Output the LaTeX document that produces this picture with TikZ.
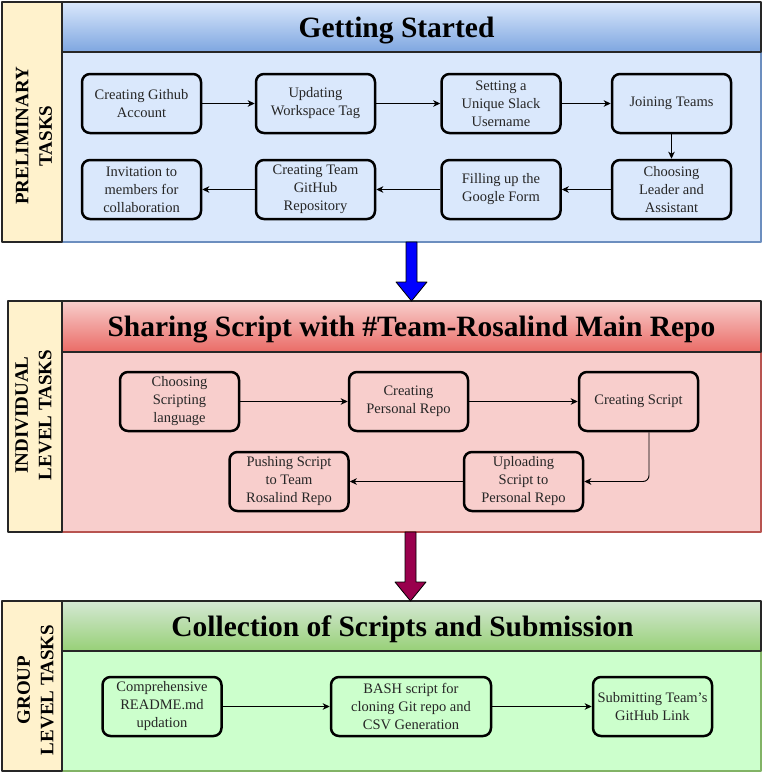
\documentclass[tikz,border=0pt]{standalone}
\usepackage{fontspec}
\setmainfont{Liberation Serif}
\usetikzlibrary{arrows.meta,positioning}

\definecolor{blueFill}{HTML}{DAE8FC}
\definecolor{blueGrad}{HTML}{7EA6E0}
\definecolor{blueLine}{HTML}{6C8EBF}
\definecolor{redFill}{HTML}{F8CECC}
\definecolor{redGrad}{HTML}{EA6B66}
\definecolor{redLine}{HTML}{B85450}
\definecolor{greenTop}{HTML}{D5E8D4}
\definecolor{greenGrad}{HTML}{97D077}
\definecolor{greenFill}{HTML}{CCFFCC}
\definecolor{greenLine}{HTML}{82B366}
\definecolor{labelFill}{HTML}{FFF2CC}
\definecolor{maroon}{HTML}{99004D}

\begin{document}
\begin{tikzpicture}[x=1pt, y=-1pt, >={Stealth[length=7pt,width=6.5pt,inset=2pt]}, line join=round,
		task/.style={draw=black, line width=2.5pt, rounded corners=8pt, minimum width=119pt, minimum height=59pt,
			align=center, text=black!85, inner sep=2pt, font=\fontsize{14.5}{18}\selectfont},
		flow/.style={->, line width=0.9pt},
		lanebox/.style={draw=black!85, line width=2pt},
		lanelabel/.style={rotate=90, align=center, font=\bfseries\fontsize{19}{23.5}\selectfont},
		lanetitle/.style={anchor=base, font=\bfseries\fontsize{29.5}{34}\selectfont},
		bigarrow/.style={draw=black, line width=0.8pt}]
	
	\useasboundingbox (0,0) rectangle (762,772);
	
	% lane 1: preliminary tasks
	\draw[fill=blueFill, draw=blueLine, line width=2pt] (62,52) rectangle (761,242);
	\draw[lanebox, top color=blueFill, bottom color=blueGrad] (62,2) rectangle (761,52);
	\draw[lanebox, fill=labelFill] (2,2) rectangle (62,242);
	\node[lanelabel] (lab1) at (34,136) {PRELIMINARY\\TASKS};
	\node[lanetitle] (title1) at (396.5,37.3) {Getting Started};
	
	% lane 2: individual level tasks
	\draw[fill=redFill, draw=redLine, line width=2pt] (62,352) rectangle (761,532);
	\draw[lanebox, top color=redFill, bottom color=redGrad] (62,301) rectangle (761,352);
	\draw[lanebox, fill=labelFill] (8,301) rectangle (62,532);
	\node[lanelabel] (lab2) at (33.5,415) {INDIVIDUAL\\LEVEL TASKS};
	\node[lanetitle] (title2) at (411.5,336.7) {Sharing Script with \#Team-Rosalind Main Repo};
	
	% lane 3: group level tasks
	\draw[fill=greenFill, draw=greenLine, line width=2pt] (62,651) rectangle (761,771);
	\draw[lanebox, top color=greenTop, bottom color=greenGrad] (62,601) rectangle (761,651);
	\draw[lanebox, fill=labelFill] (2,601) rectangle (62,771);
	\node[lanelabel] (lab3) at (35.5,690) {GROUP\\LEVEL TASKS};
	\node[lanetitle] (title3) at (402.5,636) {Collection of Scripts and Submission};
	
	% block arrows between lanes
	\draw[bigarrow, fill=blue] (406,242) -- (417,242) -- (417,282) -- (427,282) -- (411.5,301)
	-- (396,282) -- (406,282) -- cycle;
	\draw[bigarrow, fill=maroon] (405,532) -- (416,532) -- (416,582) -- (426,582) -- (410.5,601)
	-- (395,582) -- (405,582) -- cycle;
	
	% lane 1 tasks
	\node[task] (acct) at (141.5,103.5) {Creating Github\\Account};
	\node[task] (wstag) at (315.5,103.5) {Updating\\Workspace Tag};
	\node[task] (slack) at (501,103.5) {Setting a\\Unique Slack\\Username};
	\node[task] (join) at (671.5,103.5) {Joining Teams};
	\node[task] (leader) at (671.5,189.5) {Choosing\\Leader and\\Assistant};
	\node[task] (form) at (501,189.5) {Filling up the\\Google Form};
	\node[task] (teamrepo) at (315.5,189.5) {Creating Team\\GitHub\\Repository};
	\node[task] (invite) at (141.5,189.5) {Invitation to\\members for\\collaboration};
	
	\draw[flow] (acct) -- (wstag);
	\draw[flow] (wstag) -- (slack);
	\draw[flow] (slack) -- (join);
	\draw[flow] (join) -- (leader);
	\draw[flow] (leader) -- (form);
	\draw[flow] (form) -- (teamrepo);
	\draw[flow] (teamrepo) -- (invite);
	
	% lane 2 tasks
	\node[task] (lang) at (179.5,401.5) {Choosing\\Scripting\\language};
	\node[task] (persrepo) at (408.5,401.5) {Creating\\Personal Repo};
	\node[task] (script) at (638.5,401.5) {Creating Script};
	\node[task] (upload) at (523.5,481.5) {Uploading\\Script to\\Personal Repo};
	\node[task] (push) at (289,481.5) {Pushing Script\\to Team\\Rosalind Repo};
	
	\draw[flow] (lang) -- (persrepo);
	\draw[flow] (persrepo) -- (script);
	\draw[flow, rounded corners=6pt] ([xshift=10.5pt]script.south) |- (upload.east);
	\draw[flow] (upload) -- (push);
	
	% lane 3 tasks
	\node[task] (readme) at (162,706.5) {Comprehensive\\README.md\\updation};
	\node[task, minimum width=160pt] (bash) at (411,706.5) {BASH script for\\cloning Git repo and\\CSV Generation};
	\node[task] (submit) at (652.5,706.5) {Submitting Team's\\GitHub Link};
	
	\draw[flow] (readme) -- (bash);
	\draw[flow] (bash) -- (submit);
	
\end{tikzpicture}
\end{document}
